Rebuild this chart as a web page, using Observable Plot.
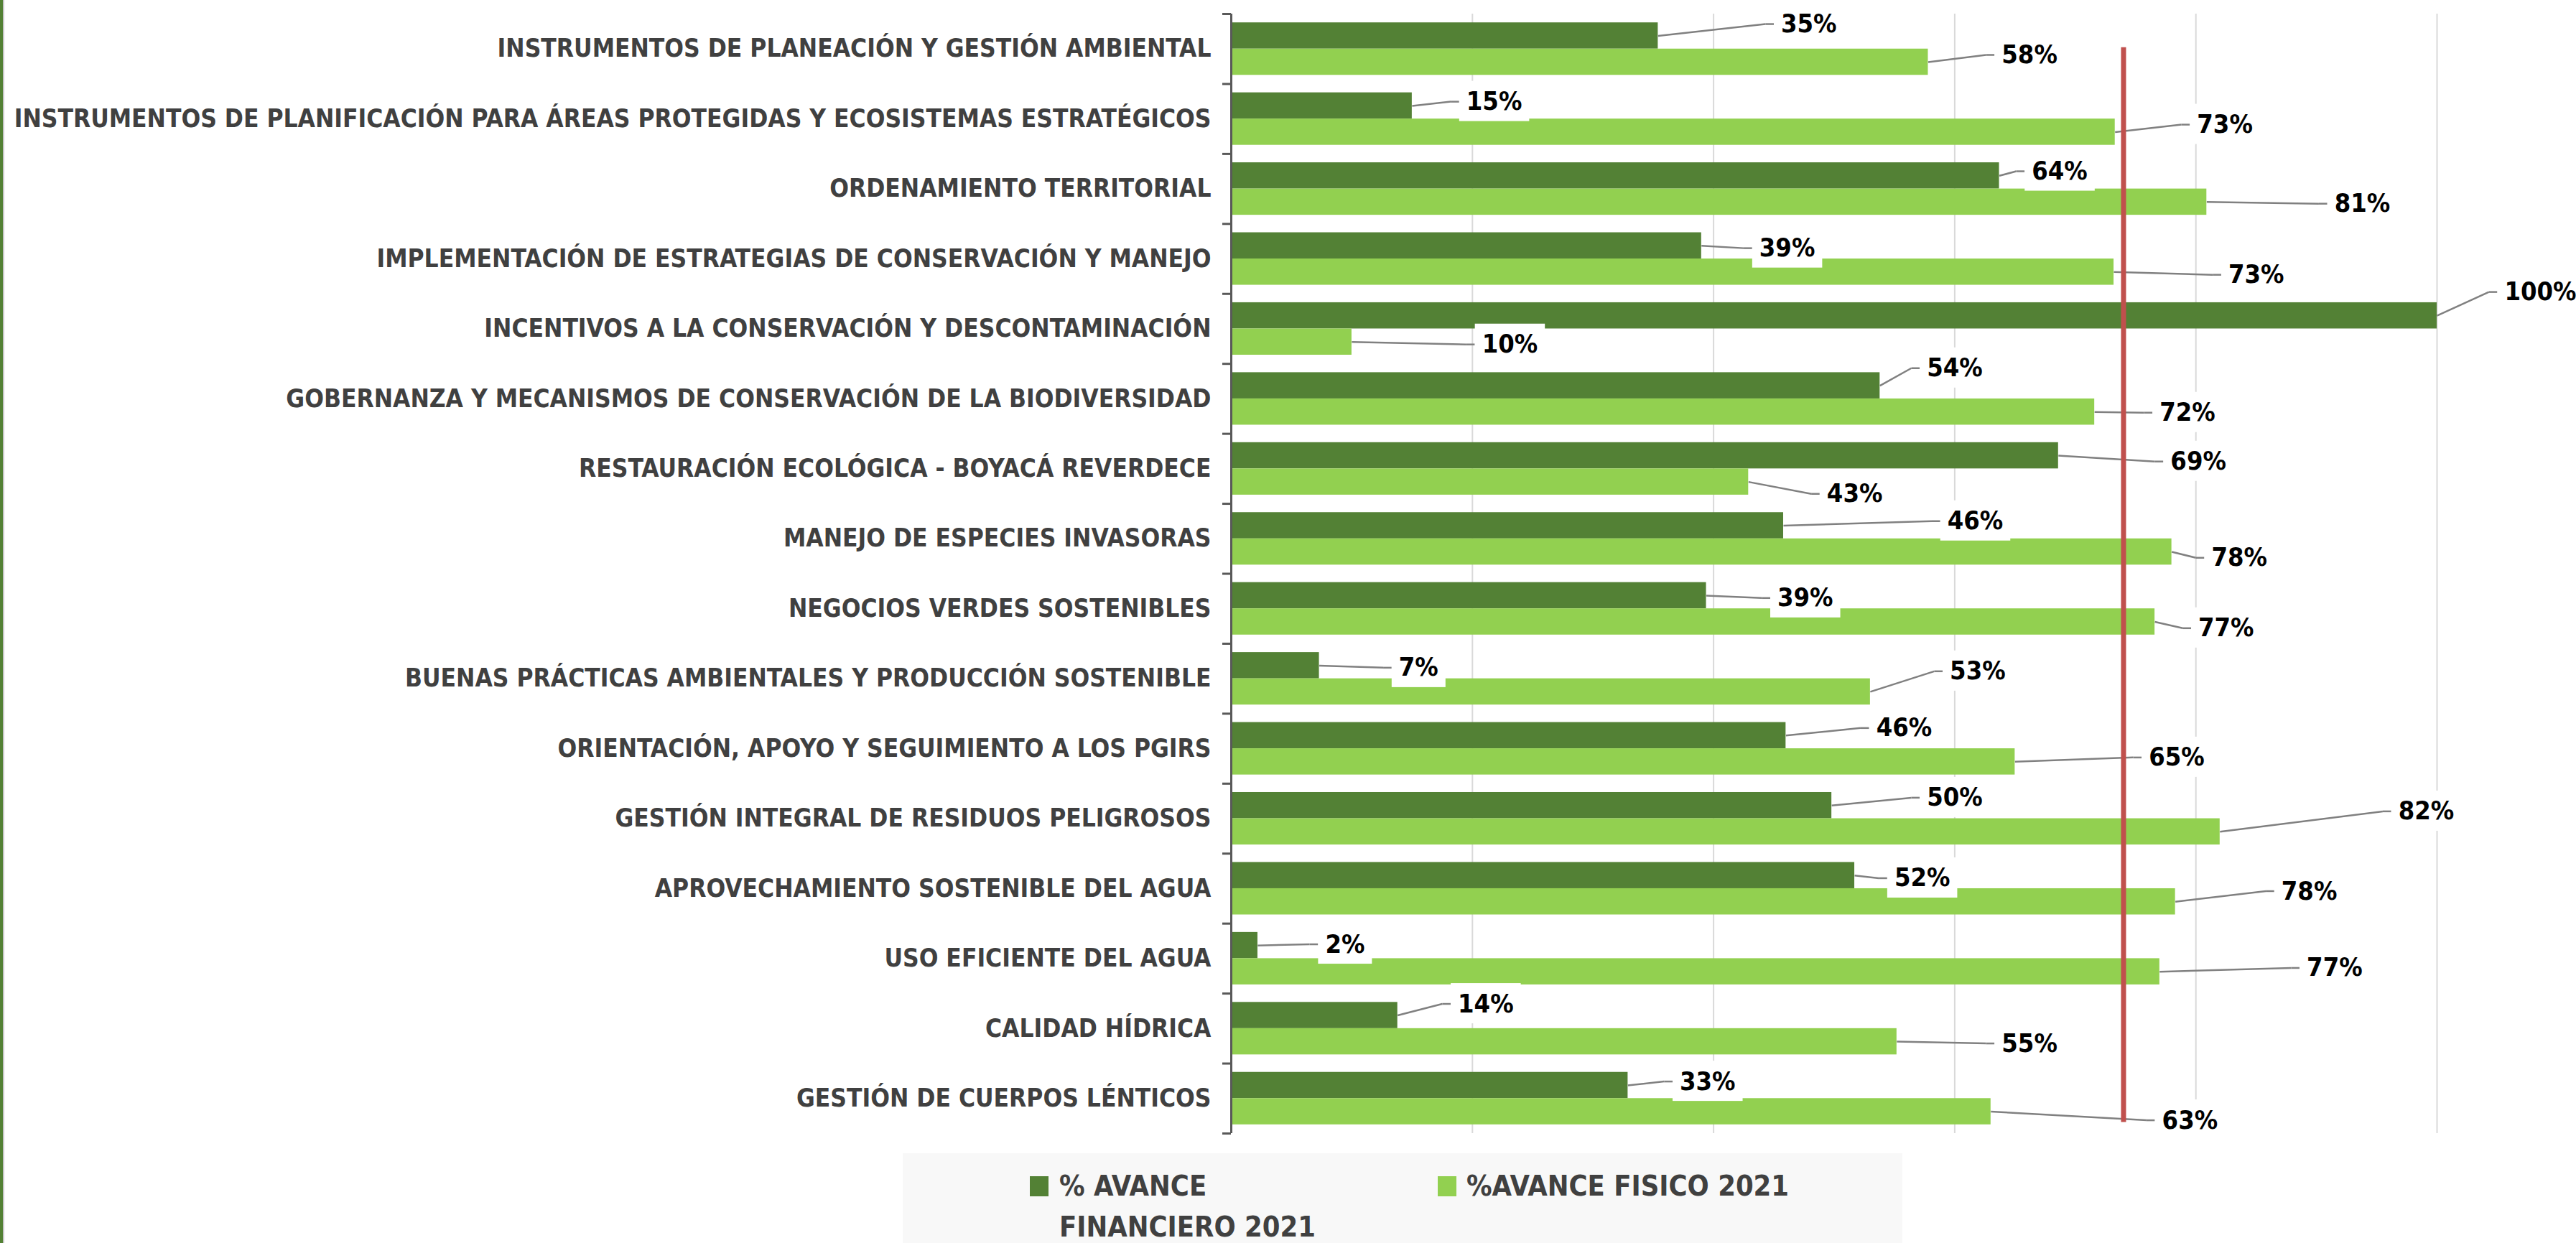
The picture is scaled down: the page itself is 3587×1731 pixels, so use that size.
<!DOCTYPE html>
<html>
<head>
<meta charset="utf-8">
<script src="https://cdn.jsdelivr.net/npm/d3@7"></script>
<script src="https://cdn.jsdelivr.net/npm/@observablehq/plot@0.6"></script>
<style>
html, body { margin: 0; padding: 0; background: #fff; width: 3587px; height: 1731px; overflow: hidden; }
#chart { position: absolute; left: 0; top: 0; }
#border { position: absolute; left: 0; top: 0; width: 4px; height: 1731px; background: #538135; border-right: 2px solid #c8c8c8; }
#legend { position: absolute; left: 1257px; top: 1606px; width: 1392px; height: 200px; background: #f8f8f8;
  font-family: 'Liberation Sans Narrow', 'DejaVu Sans Condensed', 'Arial Narrow', sans-serif; font-weight: bold; color: #404040; font-size: 39.5px; }
.sw { position: absolute; top: 32px; width: 26px; height: 28px; }
.lt { position: absolute; top: 17px; line-height: 57px; white-space: nowrap; }
</style>
</head>
<body>
<div id="border"></div>
<div id="chart"></div>
<div id="legend"></div>
<script>
const categories = [
  "INSTRUMENTOS DE PLANEACIÓN Y GESTIÓN AMBIENTAL",
  "INSTRUMENTOS DE PLANIFICACIÓN PARA ÁREAS PROTEGIDAS Y ECOSISTEMAS ESTRATÉGICOS",
  "ORDENAMIENTO TERRITORIAL",
  "IMPLEMENTACIÓN DE ESTRATEGIAS DE CONSERVACIÓN Y MANEJO",
  "INCENTIVOS A LA CONSERVACIÓN Y DESCONTAMINACIÓN",
  "GOBERNANZA Y MECANISMOS DE CONSERVACIÓN DE LA BIODIVERSIDAD",
  "RESTAURACIÓN ECOLÓGICA - BOYACÁ REVERDECE",
  "MANEJO DE ESPECIES INVASORAS",
  "NEGOCIOS VERDES SOSTENIBLES",
  "BUENAS PRÁCTICAS AMBIENTALES Y PRODUCCIÓN SOSTENIBLE",
  "ORIENTACIÓN, APOYO Y SEGUIMIENTO A LOS PGIRS",
  "GESTIÓN INTEGRAL DE RESIDUOS PELIGROSOS",
  "APROVECHAMIENTO SOSTENIBLE DEL AGUA",
  "USO EFICIENTE DEL AGUA",
  "CALIDAD HÍDRICA",
  "GESTIÓN DE CUERPOS LÉNTICOS"
];
const seriesNames = ["% AVANCE FINANCIERO 2021", "%AVANCE FISICO 2021"];
const financiero = [0.354, 0.150, 0.637, 0.390, 1.000, 0.538, 0.686, 0.458, 0.394, 0.073, 0.460, 0.498, 0.517, 0.022, 0.138, 0.329];
const fisico     = [0.578, 0.733, 0.809, 0.732, 0.100, 0.716, 0.429, 0.780, 0.766, 0.530, 0.650, 0.820, 0.783, 0.770, 0.552, 0.630];
// data-label anchor positions (x in value units, y in category rows)
const finLabelX = [0.450, 0.189, 0.658, 0.432, 1.050, 0.571, 0.773, 0.588, 0.447, 0.133, 0.529, 0.571, 0.544, 0.072, 0.182, 0.366];
const finLabelY = [0.144, 1.253, 2.248, 3.347, 3.973, 5.062, 6.396, 7.248, 8.347, 9.343, 10.205, 11.201, 12.351, 13.296, 14.148, 15.257];
const fisLabelX = [0.633, 0.795, 0.909, 0.821, 0.202, 0.764, 0.488, 0.807, 0.796, 0.590, 0.755, 0.962, 0.865, 0.886, 0.633, 0.766];
const fisLabelY = [0.585, 1.581, 2.711, 3.727, 4.723, 5.698, 6.858, 7.772, 8.778, 9.394, 10.626, 11.396, 12.536, 13.634, 14.713, 15.811];
const gridTicks = [0.2, 0.4, 0.6, 0.8, 1.0];
const targetLine = [{x: 0.74, y1: 0.48, y2: 15.84}];

const colors = {fin: "#538135", fis: "#92D050"};
const font = "'Liberation Sans Narrow', 'DejaVu Sans Condensed', 'Arial Narrow', sans-serif";

const rows = categories.map((c, i) => ({cat: c, i, fin: financiero[i], fis: fisico[i]}));
const pct = v => Math.round(v * 100) + "%";
const labels = [
  ...rows.map(d => ({value: d.fin, barY: d.i + 0.3125, lx: finLabelX[d.i], ly: finLabelY[d.i], text: pct(d.fin)})),
  ...rows.map(d => ({value: d.fis, barY: d.i + 0.6875, lx: fisLabelX[d.i], ly: fisLabelY[d.i], text: pct(d.fis)}))
];
const shoulder = 0.007;

const svg = Plot.plot({
  width: 3587,
  height: 1600,
  marginLeft: 1714,
  marginRight: 194,
  marginTop: 19,
  marginBottom: 22,
  style: {fontFamily: font, background: "transparent", overflow: "visible"},
  x: {domain: [0, 1], axis: null},
  y: {domain: [0, 16], reverse: true, axis: null},
  marks: [
    Plot.gridX(gridTicks, {stroke: "#d9d9d9", strokeOpacity: 1, strokeWidth: 2}),
    Plot.rect(rows, {x1: 0, x2: "fin", y1: d => d.i + 0.125, y2: d => d.i + 0.5, fill: colors.fin}),
    Plot.rect(rows, {x1: 0, x2: "fis", y1: d => d.i + 0.5, y2: d => d.i + 0.875, fill: colors.fis}),
    Plot.ruleX([0], {stroke: "#595959", strokeWidth: 3}),
    Plot.axisY({ticks: d3.range(0, 17), tickSize: 12, tickFormat: () => "", stroke: "#595959", strokeWidth: 3, label: null}),
    Plot.text(rows, {y: d => d.i + 0.5, text: "cat", frameAnchor: "left", textAnchor: "end", dx: -28,
      fontSize: 35, fontWeight: "bold", fill: "#404040"}),
    Plot.link(labels, {x1: "value", y1: "barY", x2: d => d.lx - shoulder, y2: "ly", stroke: "#808080", strokeWidth: 2.5}),
    Plot.link(labels, {x1: d => d.lx - shoulder, y1: "ly", x2: "lx", y2: "ly", stroke: "#808080", strokeWidth: 2.5}),
    Plot.ruleX(targetLine, {x: "x", y1: "y1", y2: "y2", stroke: "#C0504D", strokeWidth: 7}),
    Plot.text(labels, {x: "lx", y: "ly", text: "text", textAnchor: "start", dx: 10,
      fontSize: 36, fontWeight: "bold", fill: "#000"})
  ]
});
document.getElementById("chart").append(svg);

// white label boxes behind the data labels (Excel style)
const textGroups = svg.querySelectorAll('g[aria-label="text"]');
const lg = textGroups[textGroups.length - 1];
const ns = "http://www.w3.org/2000/svg";
const boxG = document.createElementNS(ns, "g");
lg.parentNode.insertBefore(boxG, lg);
const s = svg.getBoundingClientRect();
lg.querySelectorAll("text").forEach(t => {
  const r = t.getBoundingClientRect();
  const rect = document.createElementNS(ns, "rect");
  const cy = r.top - s.top + r.height / 2;
  rect.setAttribute("x", r.left - s.left - 10);
  rect.setAttribute("width", r.width + 20);
  rect.setAttribute("y", cy - 28);
  rect.setAttribute("height", 56);
  rect.setAttribute("fill", "#fff");
  boxG.append(rect);
});

// legend
const legend = document.getElementById("legend");
legend.innerHTML = `
  <div class="sw" style="left:177px;background:${colors.fin}"></div>
  <div class="lt" style="left:218px">% AVANCE<br>FINANCIERO 2021</div>
  <div class="sw" style="left:745px;background:${colors.fis}"></div>
  <div class="lt" style="left:785px">${seriesNames[1]}</div>`;
</script>
</body>
</html>
